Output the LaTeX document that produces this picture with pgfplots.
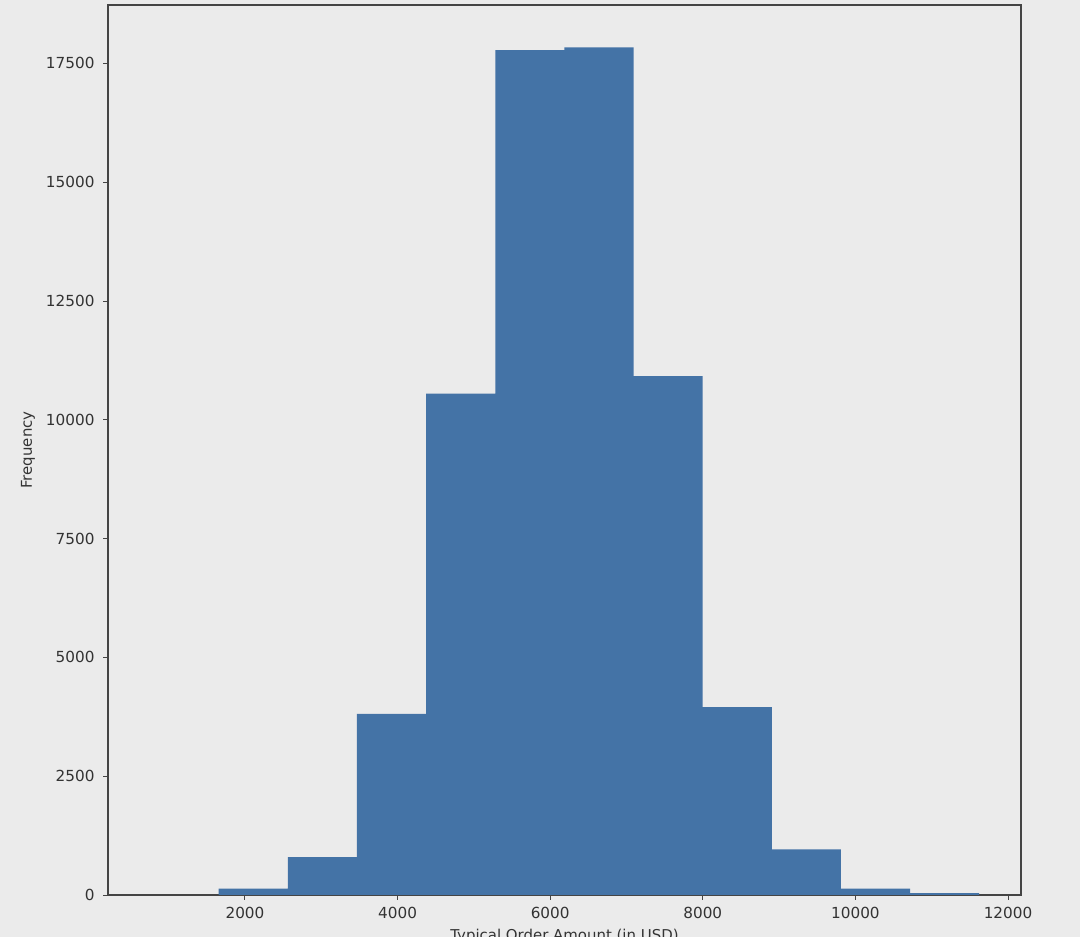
\documentclass[border=0pt]{standalone}
\usepackage{fontspec}
\setmainfont{DejaVu Sans}
\usepackage{pgfplots}
\pgfplotsset{compat=1.18}
\definecolor{bgc}{HTML}{EBEBEB}
\definecolor{barc}{HTML}{4473A6}
\definecolor{axc}{HTML}{444444}
\definecolor{txc}{HTML}{333333}
\begin{document}
\begin{tikzpicture}
\useasboundingbox (0,0) rectangle (1080bp,937bp);
\fill[bgc] (0,0) rectangle (1080bp,937bp);
\begin{axis}[
  at={(108bp,42bp)}, anchor=south west,
  scale only axis, width=913bp, height=890bp,
  xmin=205, xmax=12170, ymin=0, ymax=18730,
  xtick={2000,4000,...,12000}, ytick={0,2500,...,17500},
  scaled ticks=false,
  /pgf/number format/assume math mode=true,
  /pgf/number format/1000 sep={},
  tick align=outside, major tick length=5bp,
  tick style={axc, line width=1pt},
  xtick pos=bottom, ytick pos=left,
  axis line style={axc, line width=1.3pt},
  axis background/.style={fill=bgc},
  font=\fontsize{15}{18}\selectfont,
  tick label style={txc, font=\fontsize{15.3}{18}\selectfont},
  yticklabel style={xshift=-5bp},
  xticklabel style={yshift=-4bp},
  xlabel={Typical Order Amount (in USD)},
  ylabel={Frequency},
  xlabel style={txc, at={(axis description cs:0.5,0)}, anchor=north, yshift=-31bp},
  ylabel style={txc, at={(axis description cs:0,0.5)}, anchor=center, yshift=80bp},
]
\addplot[ybar interval, fill=barc, draw=none] coordinates {
(1656,135) (2562,795) (3468,3810) (4374,10550) (5280,17780) (6186,17840)
(7092,10920) (7998,3955) (8904,960) (9810,135) (10716,40) (11622,40)
};
\end{axis}
\end{tikzpicture}
\end{document}
